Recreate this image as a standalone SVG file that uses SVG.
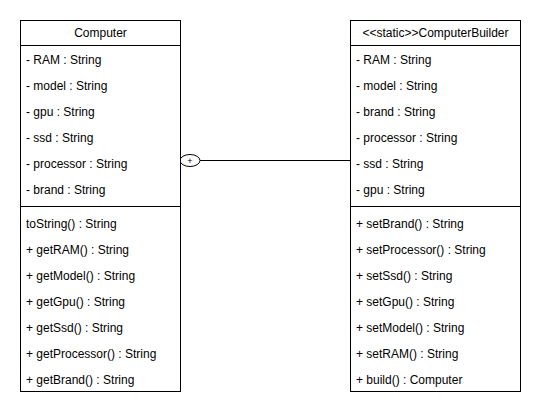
<svg xmlns="http://www.w3.org/2000/svg" width="541" height="416" viewBox="0 0 541 416">
<style>
.box{fill:#fff;stroke:#000;stroke-width:1}
.ln{stroke:#000;stroke-width:1;fill:none}
text{font-family:"Liberation Sans",Arial,sans-serif;font-size:12px;fill:#000}
.c{text-anchor:middle}
</style>
<rect width="541" height="416" fill="#fff"/>
<g id="connectors">
<line class="ln" x1="200" y1="160.5" x2="350" y2="160.5"/>
<ellipse class="ln" cx="190" cy="160.5" rx="10" ry="6" fill="#fff"/>
<text x="190" y="163.5" class="c" style="font-size:9px">+</text>
</g>
<g id="computer">
<rect class="box" x="20.5" y="20.5" width="160" height="371"/>
<line class="ln" x1="20.5" y1="45.5" x2="180.5" y2="45.5"/>
<line class="ln" x1="20.5" y1="206.5" x2="180.5" y2="206.5"/>
<text x="100.5" y="37" class="c">Computer</text>
<text x="26" y="64">- RAM : String</text>
<text x="26" y="90">- model : String</text>
<text x="26" y="116">- gpu : String</text>
<text x="26" y="142">- ssd : String</text>
<text x="26" y="168">- processor : String</text>
<text x="26" y="194">- brand : String</text>
<text x="26" y="228">toString() : String</text>
<text x="26" y="254">+ getRAM() : String</text>
<text x="26" y="280">+ getModel() : String</text>
<text x="26" y="306">+ getGpu() : String</text>
<text x="26" y="332">+ getSsd() : String</text>
<text x="26" y="358">+ getProcessor() : String</text>
<text x="26" y="384">+ getBrand() : String</text>
</g>
<g id="computerBuilder">
<rect class="box" x="350.5" y="20.5" width="170" height="371"/>
<line class="ln" x1="350.5" y1="45.5" x2="520.5" y2="45.5"/>
<line class="ln" x1="350.5" y1="206.5" x2="520.5" y2="206.5"/>
<text x="435.5" y="37" class="c">&lt;&lt;static&gt;&gt;ComputerBuilder</text>
<text x="356" y="64">- RAM : String</text>
<text x="356" y="90">- model : String</text>
<text x="356" y="116">- brand : String</text>
<text x="356" y="142">- processor : String</text>
<text x="356" y="168">- ssd : String</text>
<text x="356" y="194">- gpu : String</text>
<text x="356" y="228">+ setBrand() : String</text>
<text x="356" y="254">+ setProcessor() : String</text>
<text x="356" y="280">+ setSsd() : String</text>
<text x="356" y="306">+ setGpu() : String</text>
<text x="356" y="332">+ setModel() : String</text>
<text x="356" y="358">+ setRAM() : String</text>
<text x="356" y="384">+ build() : Computer</text>
</g>
</svg>
